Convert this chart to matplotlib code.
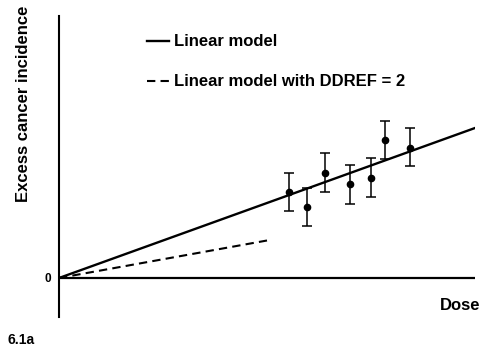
import matplotlib
matplotlib.use("Agg")
import matplotlib.pyplot as plt
import numpy as np

plt.rcParams['font.family'] = ['Liberation Sans', 'DejaVu Sans']

# observed data points (dose, excess incidence) with error bars
dose = [5.54, 5.95, 6.39, 6.99, 7.50, 7.83, 8.44]
incidence = [2.86, 2.36, 3.49, 3.13, 3.32, 4.59, 4.34]
err_hi = [3.50, 2.99, 4.18, 3.77, 4.01, 5.22, 5.01]
err_lo = [2.24, 1.73, 2.87, 2.47, 2.69, 3.96, 3.73]

# model lines
linear_x = [0, 10]
linear_y = [0, 5.0]
ddref_x = [0, 5.0]
ddref_y = [0, 1.25]

fig = plt.figure(figsize=(4.81, 3.51), dpi=100)
ax = fig.add_axes([59/481, 34/351, 416/481, 301/351])

ax.plot(linear_x, linear_y, color='black', lw=1.7, label='Linear model')
ax.plot(ddref_x, ddref_y, color='black', lw=1.5, linestyle=(0, (4, 2.5)),
        label='Linear model with DDREF = 2')

yerr = [np.array(incidence) - np.array(err_lo), np.array(err_hi) - np.array(incidence)]
ax.errorbar(dose, incidence, yerr=yerr, fmt='o', color='black', ms=4.5,
            capsize=3.5, elinewidth=1.1, capthick=1.1)

ax.axhline(0, color='black', lw=1.6)

ax.set_xlim(0, 10)
ax.set_ylim(-1.3, 8.733)
for s in ['top', 'right', 'bottom']:
    ax.spines[s].set_visible(False)
ax.spines['left'].set_linewidth(1.5)
ax.set_xticks([])
ax.set_yticks([0])
ax.set_yticklabels(['0'], fontsize=8.5, fontweight='bold')
ax.tick_params(axis='y', length=0, pad=6)

leg = ax.legend(loc='center left', bbox_to_anchor=(147/481, (351-62)/351),
                bbox_transform=fig.transFigure, frameon=False, borderpad=0,
                borderaxespad=0, handlelength=1.3, handletextpad=0.35,
                labelspacing=1.5, prop={'size': 12, 'weight': 'bold'})

fig.text(24/481, (351-104)/351, 'Excess cancer incidence', rotation=90,
         ha='center', va='center', fontsize=12, fontweight='bold')
fig.text(1.0 - 1/481, (351-305)/351, 'Dose', ha='right', va='center',
         fontsize=12, fontweight='bold')
fig.text(8/481, (351-340)/351, '6.1a', ha='left', va='center',
         fontsize=10, fontweight='bold')

fig.savefig('out.png', dpi=100)
